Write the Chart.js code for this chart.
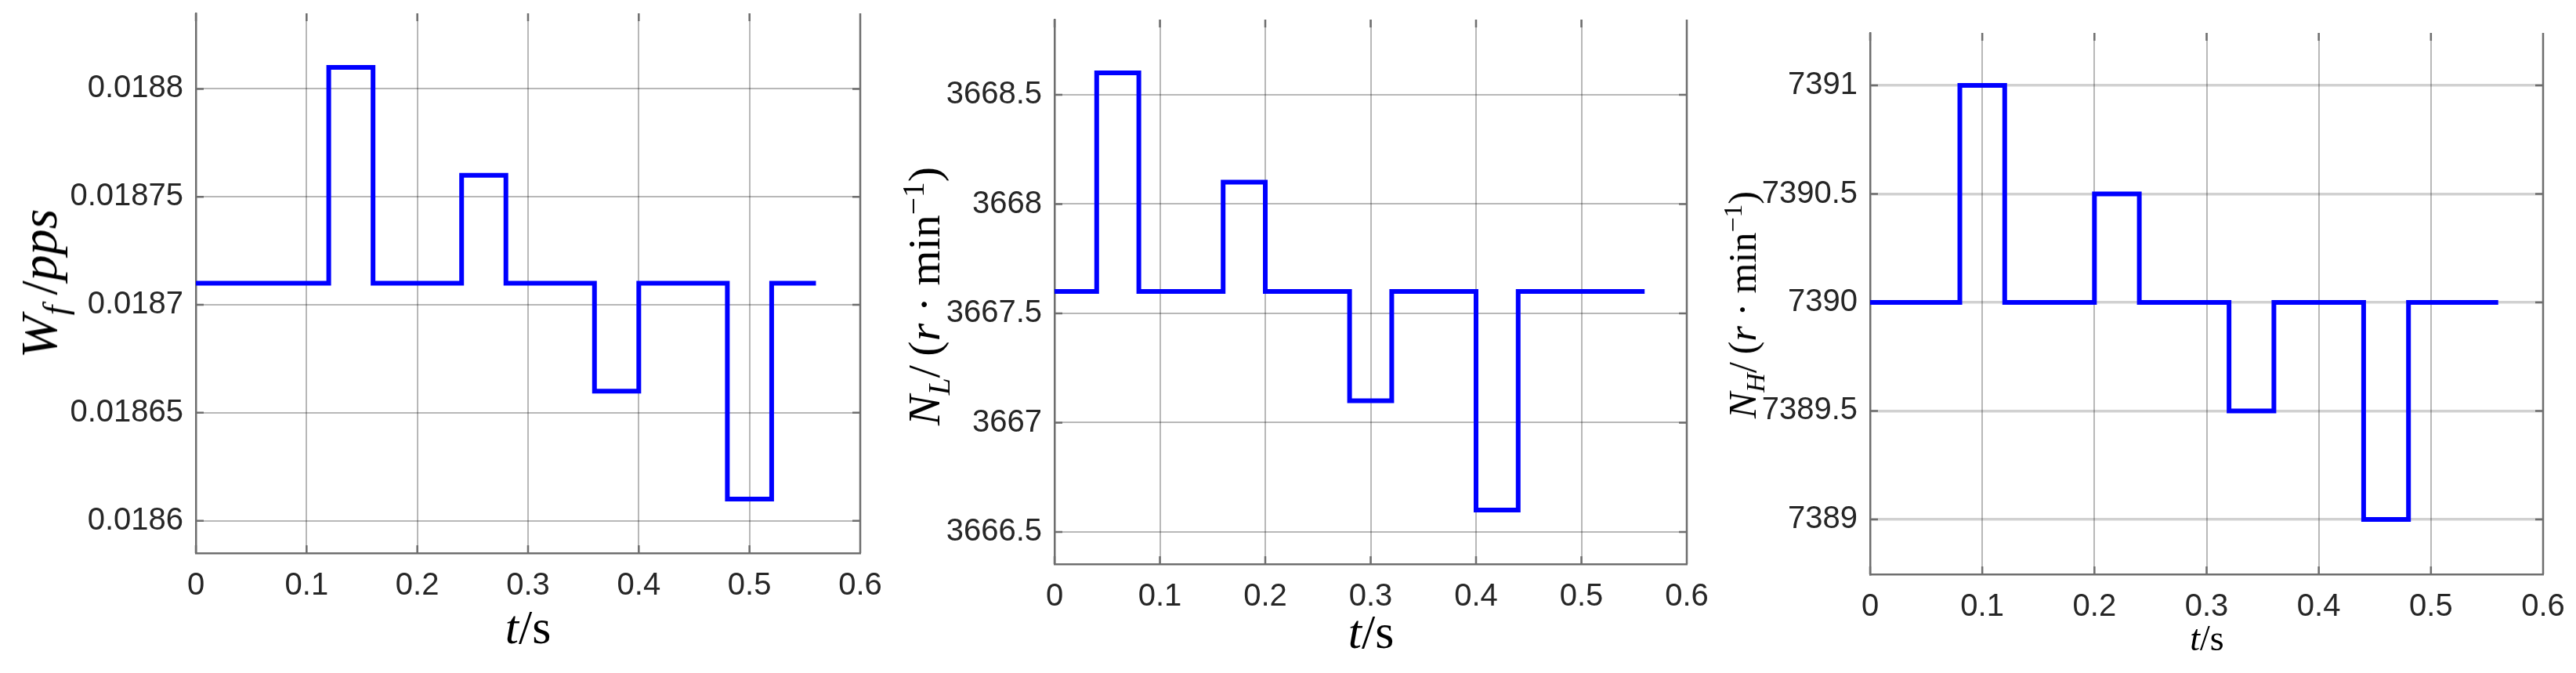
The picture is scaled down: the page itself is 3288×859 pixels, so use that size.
<!DOCTYPE html>
<html>
<head>
<meta charset="utf-8">
<script src="https://cdn.jsdelivr.net/npm/chart.js@4.4.1/dist/chart.umd.min.js"></script>
<style>
  body { margin: 0; background: #fff; }
  #wrap { position: relative; width: 3288px; height: 859px; overflow: hidden; }
  canvas { position: absolute; top: 0; }
  .lab { position: absolute; font-family: "Liberation Serif", serif; color: #000; white-space: nowrap; line-height: 1; transform: translate(-50%, -50%); }
  .rot { transform: translate(-50%, -50%) rotate(-90deg); }
  .lab sub, .lab sup { font-size: 68%; line-height: 0; }
</style>
</head>
<body>
<div id="wrap">
  <canvas id="c1" width="1150" height="859" style="left:0px"></canvas>
  <canvas id="c2" width="1043" height="859" style="left:1150px"></canvas>
  <canvas id="c3" width="1095" height="859" style="left:2193px"></canvas>

  <div class="lab rot" style="left:50px;top:362px;font-size:66px"><i>W</i><sub><i>f</i></sub>&thinsp;/<i>pps</i></div>
  <div class="lab rot" style="left:1180px;top:378px;font-size:58px"><i>N</i><sub><i>L</i></sub>/&thinsp;(<i>r</i> · min<sup>−1</sup>)</div>
  <div class="lab rot" style="left:2224px;top:389px;font-size:50px"><i>N</i><sub><i>H</i></sub>/&thinsp;(<i>r</i> · min<sup>−1</sup>)</div>

  <div class="lab" style="left:674px;top:800px;font-size:62px"><i>t</i>/s</div>
  <div class="lab" style="left:1750px;top:806px;font-size:62px"><i>t</i>/s</div>
  <div class="lab" style="left:2817px;top:815px;font-size:46px"><i>t</i>/s</div>
</div>

<script>
// shared time axis
const xTicks = [0, 0.1, 0.2, 0.3, 0.4, 0.5, 0.6];
const xTickLabels = ['0', '0.1', '0.2', '0.3', '0.4', '0.5', '0.6'];

// fuel flow Wf
const wfTime  = [0, 0.12, 0.16, 0.24, 0.28, 0.36, 0.40, 0.48, 0.52, 0.56];
const wfValue = [0.01871, 0.01881, 0.01871, 0.01876, 0.01871, 0.01866, 0.01871, 0.01861, 0.01871, 0.01871];
const wfTicks = [0.0186, 0.01865, 0.0187, 0.01875, 0.0188];
const wfTickLabels = ['0.0186', '0.01865', '0.0187', '0.01875', '0.0188'];
const wfRange = [0.018585, 0.018835];

// low pressure spool speed NL
const nlTime  = [0, 0.04, 0.08, 0.16, 0.20, 0.28, 0.32, 0.40, 0.44, 0.56];
const nlValue = [3667.6, 3668.6, 3667.6, 3668.1, 3667.6, 3667.1, 3667.6, 3666.6, 3667.6, 3667.6];
const nlTicks = [3666.5, 3667, 3667.5, 3668, 3668.5];
const nlTickLabels = ['3666.5', '3667', '3667.5', '3668', '3668.5'];
const nlRange = [3666.353, 3668.844];

// high pressure spool speed NH
const nhTime  = [0, 0.08, 0.12, 0.20, 0.24, 0.32, 0.36, 0.44, 0.48, 0.56];
const nhValue = [7390, 7391, 7390, 7390.5, 7390, 7389.5, 7390, 7389, 7390, 7390];
const nhTicks = [7389, 7389.5, 7390, 7390.5, 7391];
const nhTickLabels = ['7389', '7389.5', '7390', '7390.5', '7391'];
const nhRange = [7388.747, 7391.242];

const axisColor = '#6e6e6e';

// matlab style box: right edge + inward tick marks
const boxPlugin = {
  id: 'box',
  beforeDatasetsDraw(chart) {
    const { ctx, chartArea: a, scales: { x, y } } = chart;
    const L = 10;
    ctx.save();
    ctx.strokeStyle = axisColor;
    ctx.lineWidth = 2.5;
    ctx.beginPath();
    ctx.moveTo(a.right, a.top);
    ctx.lineTo(a.right, a.bottom);
    y.ticks.forEach(t => {
      const p = y.getPixelForValue(t.value);
      ctx.moveTo(a.left, p); ctx.lineTo(a.left + L, p);
      ctx.moveTo(a.right, p); ctx.lineTo(a.right - L, p);
    });
    x.ticks.forEach(t => {
      const p = x.getPixelForValue(t.value);
      ctx.moveTo(p, a.bottom); ctx.lineTo(p, a.bottom - L);
      ctx.moveTo(p, a.top); ctx.lineTo(p, a.top + L);
    });
    ctx.stroke();
    ctx.restore();
  }
};

function makeChart(id, time, value, yTicks, yLabels, yRange, box, grid) {
  const tickFont = { family: 'Liberation Sans', size: 40 };
  return new Chart(document.getElementById(id).getContext('2d'), {
    type: 'line',
    data: {
      datasets: [{
        data: time.map((t, i) => ({ x: t, y: value[i] })),
        stepped: 'before',
        borderColor: '#0000ff',
        borderWidth: 6,
        pointRadius: 0,
        fill: false
      }]
    },
    options: {
      responsive: false,
      animation: false,
      events: [],
      layout: { padding: { top: box.top, right: box.right, left: 0, bottom: 0 } },
      plugins: { legend: { display: false }, tooltip: { enabled: false } },
      scales: {
        x: {
          type: 'linear',
          min: 0,
          max: 0.6,
          afterBuildTicks: s => { s.ticks = xTicks.map(v => ({ value: v })); },
          afterFit: s => { s.height = box.xh; s.paddingLeft = 0; s.paddingRight = 0; },
          ticks: {
            callback: (v, i) => xTickLabels[i],
            font: tickFont, color: '#262626', padding: 18,
            maxRotation: 0, autoSkip: false
          },
          grid: { color: grid.v, lineWidth: grid.vw, drawTicks: false },
          border: { color: axisColor, width: 2.5 }
        },
        y: {
          min: yRange[0],
          max: yRange[1],
          afterBuildTicks: s => { s.ticks = yTicks.map(v => ({ value: v })); },
          afterFit: s => { s.width = box.yw; s.paddingTop = 0; s.paddingBottom = 0; },
          ticks: {
            callback: (v, i) => yLabels[i],
            font: tickFont, color: '#262626', padding: 16, autoSkip: false
          },
          grid: { color: grid.h, lineWidth: grid.hw, drawTicks: false },
          border: { color: axisColor, width: 2.5 }
        }
      }
    },
    plugins: [boxPlugin]
  });
}

makeChart('c1', wfTime, wfValue, wfTicks, wfTickLabels, wfRange,
  { yw: 250, xh: 153, top: 17, right: 52 },
  { v: 'rgba(0,0,0,0.28)', vw: 2, h: 'rgba(0,0,0,0.28)', hw: 2 });
makeChart('c2', nlTime, nlValue, nlTicks, nlTickLabels, nlRange,
  { yw: 196, xh: 139, top: 25, right: 40 },
  { v: 'rgba(0,0,0,0.28)', vw: 2, h: 'rgba(0,0,0,0.28)', hw: 2 });
makeChart('c3', nhTime, nhValue, nhTicks, nhTickLabels, nhRange,
  { yw: 194, xh: 126, top: 42, right: 42 },
  { v: 'rgba(0,0,0,0.28)', vw: 2, h: 'rgba(0,0,0,0.18)', hw: 3.5 });
</script>
</body>
</html>
